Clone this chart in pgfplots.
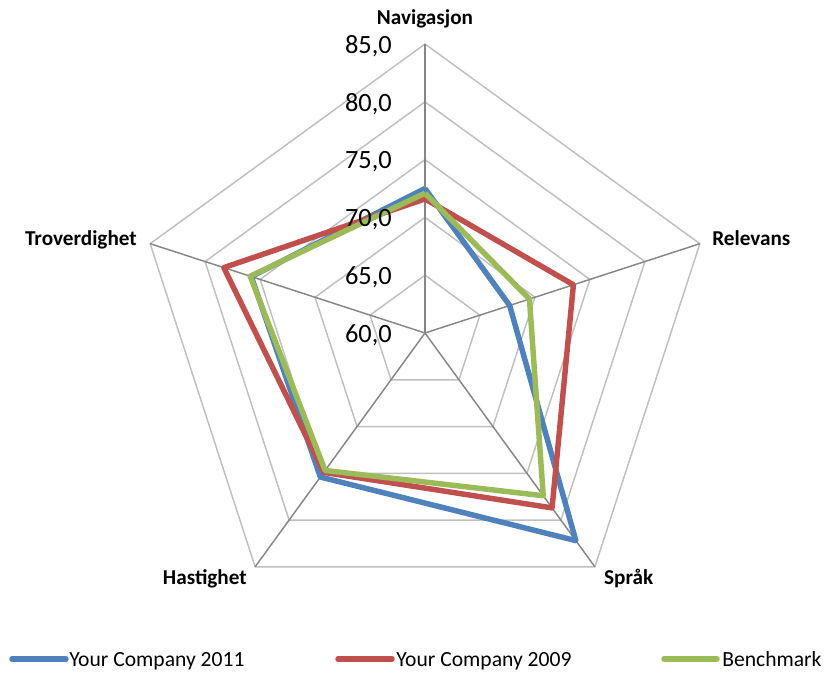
\documentclass[border=0pt]{standalone}
\usepackage{pgfplots}
\pgfplotsset{compat=1.18}
\usepackage{pgfplotstable}
\usepackage{fontspec}
\setmainfont{Carlito}

\definecolor{cBlue}{HTML}{4F81BD}
\definecolor{cRed}{HTML}{C0504D}
\definecolor{cGreen}{HTML}{9BBB59}
\definecolor{ringgray}{HTML}{BFBFBF}
\definecolor{spokegray}{HTML}{868686}

% angle (deg), Your Company 2011, Your Company 2009, Benchmark
\pgfplotstableread{
a    v11   v09   vb
90   72.5  71.6  72.1
18   67.7  73.5  69.5
-54  82.2  78.7  77.4
-126 75.4  74.9  74.7
162  75.8  78.3  75.9
90   72.5  71.6  72.1
}\radar

\begin{document}
\begin{tikzpicture}
\begin{scope}[x=0.75pt,y=-0.75pt]
\useasboundingbox (0,0) rectangle (829,672);
\end{scope}
\begin{axis}[
  hide axis, clip=false,
  x=8.67pt, y=8.67pt,
  xmin=-26, xmax=26, ymin=-26, ymax=26,
  anchor=origin, at={(318.75pt,-249.75pt)},
]
% rings
\pgfplotsinvokeforeach{65,70,75,80,85}{
  \addplot[ringgray, line width=1.1pt, no marks, forget plot]
    table[x expr={(#1-60)*cos(\thisrow{a})}, y expr={(#1-60)*sin(\thisrow{a})}] {\radar};
}
% spokes
\pgfplotsinvokeforeach{90,18,-54,-126,162}{
  \draw[spokegray, line width=1.1pt] (axis cs:0,0) -- (axis cs:{25*cos(#1)},{25*sin(#1)});
}
% data
\addplot[cBlue, line width=4.1pt, no marks, line join=round]
  table[x expr={(\thisrow{v11}-60)*cos(\thisrow{a})}, y expr={(\thisrow{v11}-60)*sin(\thisrow{a})}] {\radar};
\addplot[cRed, line width=4.1pt, no marks, line join=round]
  table[x expr={(\thisrow{v09}-60)*cos(\thisrow{a})}, y expr={(\thisrow{v09}-60)*sin(\thisrow{a})}] {\radar};
\addplot[cGreen, line width=4.1pt, no marks, line join=round]
  table[x expr={(\thisrow{vb}-60)*cos(\thisrow{a})}, y expr={(\thisrow{vb}-60)*sin(\thisrow{a})}] {\radar};
% ring labels
\node[anchor=base east, inner sep=0pt, font=\fontsize{19.8}{22}\selectfont] at (axis cs:-2.85,-0.8) {60,0};
\node[anchor=base east, inner sep=0pt, font=\fontsize{19.8}{22}\selectfont] at (axis cs:-2.85,4.2) {65,0};
\node[anchor=base east, inner sep=0pt, font=\fontsize{19.8}{22}\selectfont] at (axis cs:-2.85,9.2) {70,0};
\node[anchor=base east, inner sep=0pt, font=\fontsize{19.8}{22}\selectfont] at (axis cs:-2.85,14.2) {75,0};
\node[anchor=base east, inner sep=0pt, font=\fontsize{19.8}{22}\selectfont] at (axis cs:-2.85,19.2) {80,0};
\node[anchor=base east, inner sep=0pt, font=\fontsize{19.8}{22}\selectfont] at (axis cs:-2.85,24.2) {85,0};
% category labels
\node[anchor=base, inner sep=0pt, font=\fontsize{15.9}{18}\bfseries\selectfont] at (axis cs:0,26.73) {Navigasjon};
\node[anchor=base west, inner sep=0pt, font=\fontsize{15.9}{18}\bfseries\selectfont] at (axis cs:24.83,7.53) {Relevans};
\node[anchor=base west, inner sep=0pt, font=\fontsize{15.9}{18}\bfseries\selectfont] at (axis cs:15.48,-21.72) {Språk};
\node[anchor=base east, inner sep=0pt, font=\fontsize{15.9}{18}\bfseries\selectfont] at (axis cs:-15.4,-21.72) {Hastighet};
\node[anchor=base east, inner sep=0pt, font=\fontsize{15.9}{18}\bfseries\selectfont] at (axis cs:-24.91,7.53) {Troverdighet};
\end{axis}
% legend
\begin{scope}[x=0.75pt,y=-0.75pt]
\draw[cBlue, line width=4.1pt, line cap=round] (12,659) -- (66,659);
\node[anchor=base west, inner sep=0pt, font=\fontsize{16.2}{18}\selectfont] at (69,666.7) {Your Company 2011};
\draw[cRed, line width=4.1pt, line cap=round] (338,659) -- (392,659);
\node[anchor=base west, inner sep=0pt, font=\fontsize{16.2}{18}\selectfont] at (396,666.7) {Your Company 2009};
\draw[cGreen, line width=4.1pt, line cap=round] (664,659) -- (717,659);
\node[anchor=base west, inner sep=0pt, font=\fontsize{16.2}{18}\selectfont] at (722,666.7) {Benchmark};
\end{scope}
\end{tikzpicture}
\end{document}
